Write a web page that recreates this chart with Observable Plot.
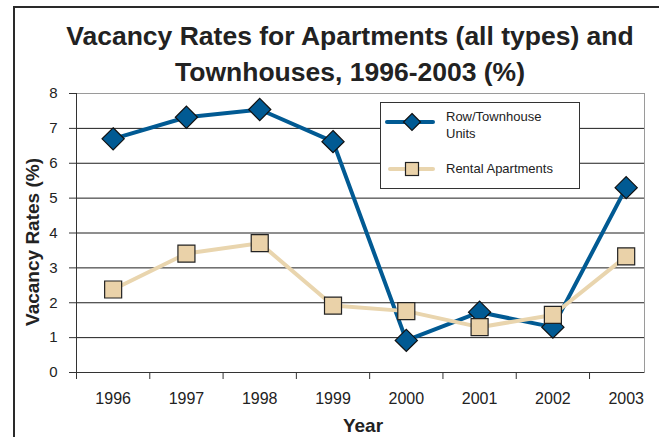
<!DOCTYPE html>
<html>
<head>
<meta charset="utf-8">
<script src="https://cdn.jsdelivr.net/npm/d3@7"></script>
<script src="https://cdn.jsdelivr.net/npm/@observablehq/plot@0.6"></script>
<style>
  html, body { margin: 0; padding: 0; background: #fff; }
  #wrap { position: relative; width: 659px; height: 437px; overflow: hidden; background: #fff;
          font-family: "Liberation Sans", Arial, sans-serif; color: #222; }
  #border { position: absolute; left: 13px; top: 6px; width: 700px; height: 500px;
            border: 2px solid #2a2a2a; box-sizing: border-box; }
  #title { position: absolute; left: 0; top: 18px; width: 700px; text-align: center;
           font-weight: bold; font-size: 26.5px; line-height: 36px; color: #222; }
  #chart { position: absolute; left: 0; top: 85px; }
  #ylabel { position: absolute; left: 32px; top: 241.5px; transform: translate(-50%, -50%) rotate(-90deg);
            white-space: nowrap; font-weight: bold; font-size: 19px; line-height: 19px; }
  #xlabel { position: absolute; left: 363px; top: 416px; transform: translateX(-50%);
            white-space: nowrap; font-weight: bold; font-size: 19px; line-height: 19px; }
  #legend { position: absolute; left: 380px; top: 102px; width: 200px; height: 87px;
            border: 1px solid #333; box-sizing: border-box; background: #fff; }
  #legend svg { position: absolute; left: -1px; top: -1px; }
</style>
</head>
<body>
<div id="wrap">
  <div id="border"></div>
  <div id="title">Vacancy Rates for Apartments (all types) and<br>Townhouses, 1996-2003 (%)</div>
  <div id="chart"></div>
  <div id="ylabel">Vacancy Rates (%)</div>
  <div id="xlabel">Year</div>
  <div id="legend"></div>
</div>
<script>
// ---- data ----
const years = [1996, 1997, 1998, 1999, 2000, 2001, 2002, 2003];
const rowTownhouseUnits = [6.70, 7.32, 7.54, 6.62, 0.92, 1.73, 1.30, 5.30];
const rentalApartments  = [2.38, 3.41, 3.71, 1.92, 1.76, 1.30, 1.65, 3.33];
const yTicks = [0, 1, 2, 3, 4, 5, 6, 7, 8];
const gridTicks = [1, 2, 3, 4, 5, 6, 7];
const yearBoundaries = [1995.5, 1996.5, 1997.5, 1998.5, 1999.5, 2000.5, 2001.5, 2002.5];
const seriesNames = ["Row/Townhouse Units", "Rental Apartments"];

const BLUE = "#015a93";
const TAN_LINE = "#e9d5ae";
const TAN_FILL = "#ead2a9";

const rowData = years.map((year, i) => ({year, value: rowTownhouseUnits[i]}));
const rentalData = years.map((year, i) => ({year, value: rentalApartments[i]}));

const chart = Plot.plot({
  width: 659,
  height: 352,
  marginTop: 8,
  marginBottom: 65,
  marginLeft: 76,
  marginRight: 15,
  style: {fontFamily: "'Liberation Sans', Arial, sans-serif", color: "#222", background: "transparent", overflow: "visible"},
  x: {domain: [1995.5, 2003.25], label: null},
  y: {domain: [0, 8], label: null},
  marks: [
    Plot.frame({stroke: "#9a9a9a"}),
    Plot.gridY(gridTicks, {stroke: "#1e1e1e", strokeOpacity: 1}),
    Plot.ruleY([0], {stroke: "#333"}),
    Plot.ruleX([yearBoundaries[0]], {stroke: "#333"}),
    Plot.axisY(yTicks, {tickSize: 7, tickPadding: 12, fontSize: 15, stroke: "#333", label: null, tickFormat: d3.format("d")}),
    Plot.axisX(yearBoundaries, {tickSize: 7, tickFormat: () => "", stroke: "#333", label: null}),
    Plot.axisX(years, {tickSize: 0, tickPadding: 20, fontSize: 16, tickFormat: d3.format("d"), label: null}),
    Plot.lineY(rowData, {x: "year", y: "value", stroke: BLUE, strokeWidth: 4}),
    Plot.dot(rowData, {x: "year", y: "value", symbol: "diamond2", r: 10, fill: BLUE, stroke: "#111", strokeWidth: 1.2}),
    Plot.lineY(rentalData, {x: "year", y: "value", stroke: TAN_LINE, strokeWidth: 4}),
    Plot.dot(rentalData, {x: "year", y: "value", symbol: "square", r: 9.6, fill: TAN_FILL, stroke: "#222", strokeWidth: 1.2})
  ]
});
document.getElementById("chart").appendChild(chart);

// ---- legend ----
const legend = d3.select("#legend").append("svg").attr("width", 200).attr("height", 87);
// Row/Townhouse entry
legend.append("line").attr("x1", 7).attr("x2", 53).attr("y1", 20).attr("y2", 20)
  .attr("stroke", BLUE).attr("stroke-width", 4).attr("stroke-linecap", "round");
legend.append("path").attr("d", "M32,11.5L40.5,20L32,28.5L23.5,20Z")
  .attr("fill", BLUE).attr("stroke", "#111").attr("stroke-width", 1.2);
legend.append("text").attr("x", 66).attr("y", 19).attr("font-size", 13)
  .attr("font-family", "'Liberation Sans', Arial, sans-serif").attr("fill", "#222").text("Row/Townhouse");
legend.append("text").attr("x", 66).attr("y", 35.5).attr("font-size", 13)
  .attr("font-family", "'Liberation Sans', Arial, sans-serif").attr("fill", "#222").text("Units");
// Rental entry
legend.append("line").attr("x1", 10).attr("x2", 53).attr("y1", 67).attr("y2", 67)
  .attr("stroke", TAN_LINE).attr("stroke-width", 4).attr("stroke-linecap", "round");
legend.append("rect").attr("x", 25.5).attr("y", 60.5).attr("width", 13).attr("height", 13)
  .attr("fill", TAN_FILL).attr("stroke", "#222").attr("stroke-width", 1.2);
legend.append("text").attr("x", 66).attr("y", 71).attr("font-size", 13)
  .attr("font-family", "'Liberation Sans', Arial, sans-serif").attr("fill", "#222").text(seriesNames[1]);
</script>
</body>
</html>
